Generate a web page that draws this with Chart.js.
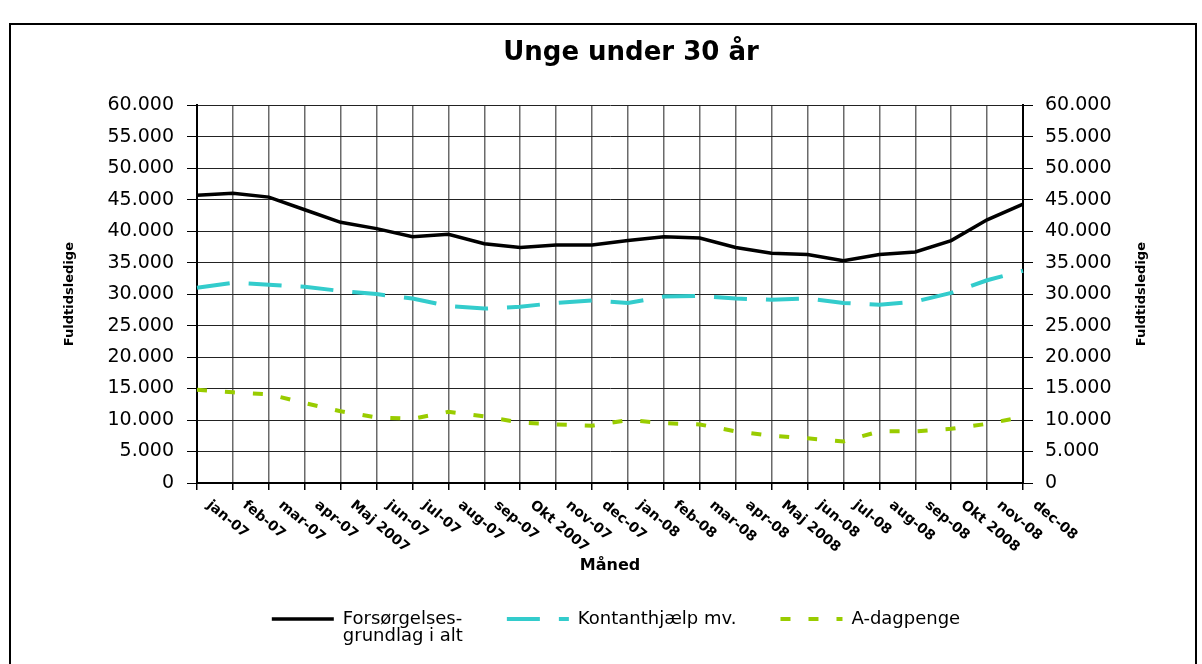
<!DOCTYPE html>
<html>
<head>
<meta charset="utf-8">
<script src="https://cdn.jsdelivr.net/npm/chart.js@4.4.1/dist/chart.umd.min.js"></script>
<style>
html,body{margin:0;padding:0;background:#fff;overflow:hidden}
canvas{display:block}
</style>
</head>
<body>
<canvas id="c" width="1202" height="664"></canvas>
<script>
// ---- data ----
const months = ['jan-07','feb-07','mar-07','apr-07','Maj 2007','jun-07','jul-07','aug-07','sep-07','Okt 2007','nov-07','dec-07',
                'jan-08','feb-08','mar-08','apr-08','Maj 2008','jun-08','jul-08','aug-08','sep-08','Okt 2008','nov-08','dec-08'];
const forsorgelse = [45700,46000,45400,43400,41400,40400,39100,39500,38000,37400,37800,37800,
                     38500,39100,38900,37400,36500,36300,35300,36300,36700,38500,41800,44300];
const kontanthjaelp = [31000,31800,31500,31150,30500,30000,29300,28100,27700,28000,28600,29000,
                       28600,29600,29700,29300,29100,29300,28600,28300,28800,30200,32200,33700];
const dagpenge = [14800,14400,14100,12700,11400,10400,10200,11300,10600,9600,9300,9100,
                  10000,9500,9300,8200,7500,7100,6600,8200,8200,8600,9400,10500];
const seriesNames = [['Forsørgelses-','grundlag i alt'], ['Kontanthjælp mv.'], ['A-dagpenge']];
const chartTitle = 'Unge under 30 år';
const yTitle = 'Fuldtidsledige';
const xTitle = 'Måned';
const yMin = 0, yMax = 60000, yStep = 5000;

const FONT = '"DejaVu Sans", "Liberation Sans", sans-serif';
Chart.defaults.color = '#000';
Chart.defaults.font.family = FONT;

function fmt(v) {
  return String(v).replace(/\B(?=(\d{3})+(?!\d))/g, '.');
}

const framePlugin = {
  id: 'frame',
  afterLayout(chart) {
    // give the two-line legend label room below, and nudge the legend row left
    const l = chart.legend;
    if (l) {
      l.bottom = l.top + 100;
      l.height = 100;
      l.left -= 15;
      l.right -= 15;
    }
  },
  beforeDraw(chart) {
    const ctx = chart.ctx;
    ctx.save();
    ctx.fillStyle = '#fff';
    ctx.fillRect(0, 0, chart.width, chart.height);
    ctx.strokeStyle = '#000';
    ctx.lineWidth = 2;
    ctx.strokeRect(10, 24, 1186, 700);
    ctx.restore();
  }
};

const xLabelPlugin = {
  id: 'xlabels',
  afterDraw(chart) {
    const s = chart.scales.x, ctx = chart.ctx;
    ctx.save();
    ctx.font = 'bold 14px ' + FONT;
    ctx.fillStyle = '#000';
    ctx.textAlign = 'left';
    ctx.textBaseline = 'top';
    months.forEach((m, i) => {
      const x = s.getPixelForTick(i);
      ctx.save();
      ctx.translate(x + 16, s.top + 15);
      ctx.rotate(40 * Math.PI / 180);
      ctx.fillText(m, 0, 0);
      ctx.restore();
    });
    ctx.restore();
  }
};

const rightTitlePlugin = {
  id: 'rightTitle',
  afterDraw(chart) {
    const s = chart.scales.y2, ctx = chart.ctx;
    ctx.save();
    ctx.font = 'bold 13px ' + FONT;
    ctx.fillStyle = '#000';
    ctx.textAlign = 'center';
    ctx.textBaseline = 'middle';
    ctx.translate(1142, (s.top + s.bottom) / 2);
    ctx.rotate(-Math.PI / 2);
    ctx.fillText(yTitle, 0, 0);
    ctx.restore();
  }
};

const colors = ['#000000', '#33CCCC', '#99CC00'];
const widths = [3.5, 4, 4];
const dashes = [[], [33, 19], [10, 18]];
const values = [forsorgelse, kontanthjaelp, dagpenge];

const datasets = values.map((v, i) => ({
  label: seriesNames[i].join(' '),
  data: v,
  borderColor: colors[i],
  backgroundColor: colors[i],
  borderWidth: widths[i],
  borderDash: dashes[i],
  pointRadius: 0,
  pointHoverRadius: 0,
  tension: 0,
  fill: false,
  yAxisID: 'y'
}));

new Chart(document.getElementById('c'), {
  type: 'line',
  data: { labels: months, datasets },
  plugins: [framePlugin, xLabelPlugin, rightTitlePlugin],
  options: {
    responsive: false,
    animation: false,
    devicePixelRatio: 1,
    layout: { padding: { top: 24, left: 60, right: 0, bottom: 26 } },
    plugins: {
      tooltip: { enabled: false },
      title: {
        display: true,
        text: chartTitle,
        color: '#000',
        font: { size: 26, weight: 'bold', family: FONT, lineHeight: 1.2 },
        padding: { top: 14, bottom: 36 }
      },
      legend: {
        display: true,
        position: 'bottom',
        labels: {
          color: '#000',
          font: { size: 18, family: FONT, lineHeight: 0.95 },
          padding: 44,
          usePointStyle: true,
          pointStyleWidth: 62,
          boxHeight: 18,
          generateLabels(chart) {
            return chart.data.datasets.map((ds, i) => {
              const lines = seriesNames[i].slice();
              let text;
              if (lines.length > 1) {
                text = lines;
                const longest = lines.reduce((a, b) => a.length > b.length ? a : b);
                text.toString = () => longest;
              } else {
                text = lines[0];
              }
              return {
                text,
                fillStyle: ds.borderColor,
                strokeStyle: ds.borderColor,
                lineWidth: ds.borderWidth,
                lineDash: ds.borderDash,
                pointStyle: 'line',
                fontColor: '#000',
                hidden: false,
                datasetIndex: i
              };
            });
          }
        }
      }
    },
    scales: {
      x: {
        type: 'category',
        offset: false,
        ticks: { display: false },
        grid: { color: '#6a6a6a', lineWidth: 1.5, tickLength: 7, tickColor: '#000', drawTicks: true },
        border: { display: true, color: '#000', width: 2 },
        title: {
          display: true, text: xTitle, color: '#000',
          font: { size: 16, weight: 'bold', family: FONT, lineHeight: 1.2 },
          padding: { top: 0, bottom: -9 }
        },
        afterFit(s) { s.height = 83; }
      },
      y: {
        position: 'left',
        min: yMin, max: yMax,
        ticks: { stepSize: yStep, callback: v => fmt(v), color: '#000', padding: 13,
                 font: { size: 19, family: FONT } },
        grid: { color: '#222', lineWidth: 1, tickLength: 10, tickColor: '#000' },
        border: { display: true, color: '#000', width: 2 },
        title: {
          display: true, text: yTitle, color: '#000',
          font: { size: 13, weight: 'bold', family: FONT, lineHeight: 1.2 },
          padding: { top: 2, bottom: 0 }
        },
        afterFit(s) { s.width = 137; }
      },
      y2: {
        position: 'right',
        min: yMin, max: yMax,
        ticks: { stepSize: yStep, callback: v => fmt(v), color: '#000', padding: 12,
                 font: { size: 19, family: FONT } },
        grid: { drawOnChartArea: false, tickLength: 10, tickColor: '#000', color: '#000' },
        border: { display: true, color: '#000', width: 2 },
        afterFit(s) { s.width = 179; }
      }
    }
  }
});
</script>
</body>
</html>
